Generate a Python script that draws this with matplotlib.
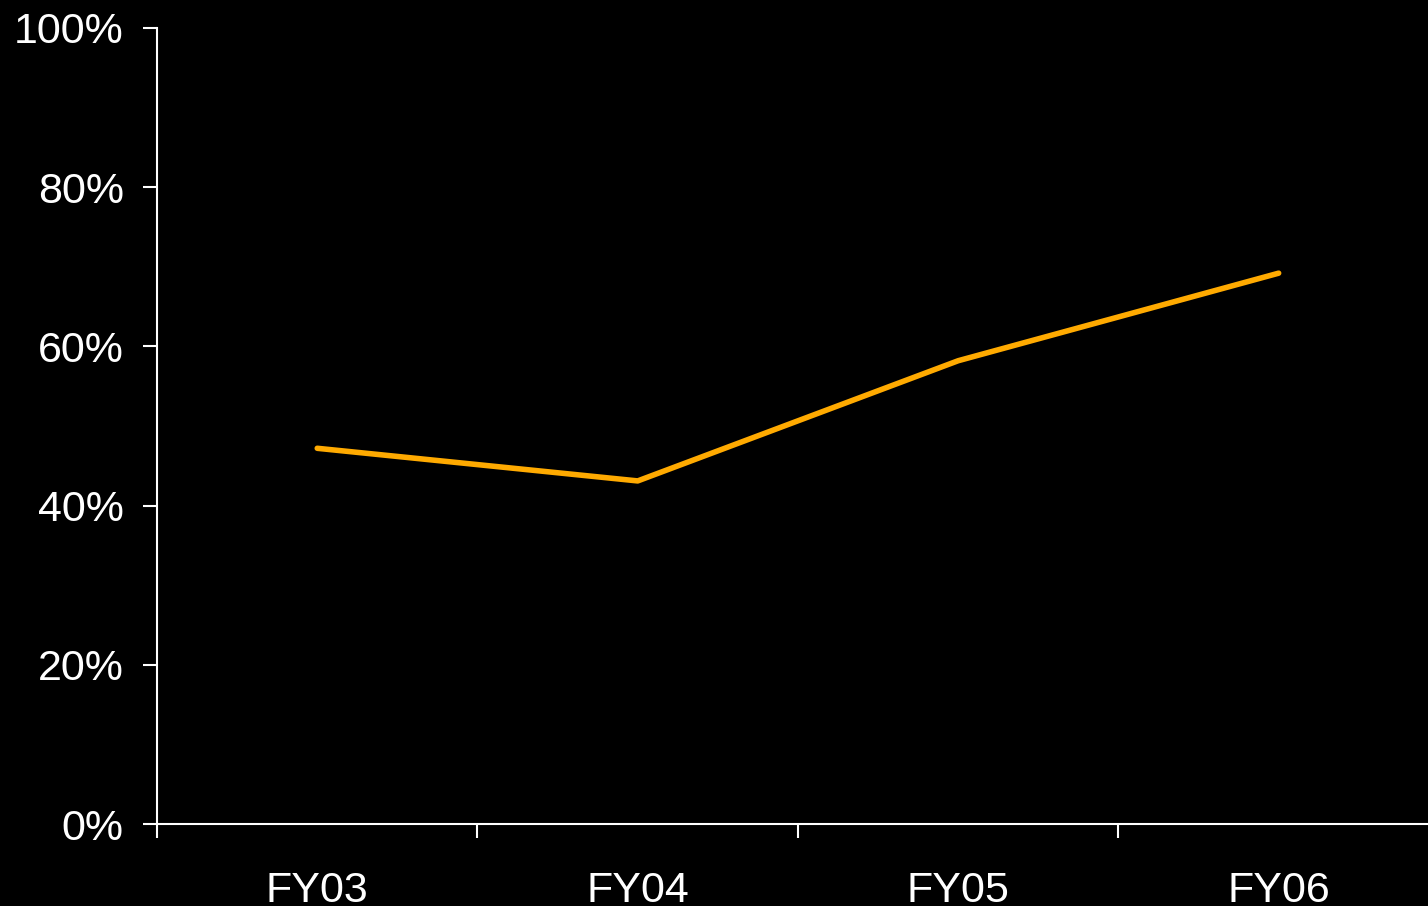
import numpy as np
from matplotlib import pyplot as plt

# data
years = ['FY03', 'FY04', 'FY05', 'FY06']
share = [47.2, 43.1, 58.2, 69.2]
yticks = [0, 20, 40, 60, 80, 100]

plt.rcParams['font.family'] = ['Liberation Sans', 'DejaVu Sans']

fig = plt.figure(figsize=(14.28, 9.06), dpi=100, facecolor='black')
ax = fig.add_axes([157 / 1428, 1 - 824 / 906, 1 - 157 / 1428, (824 - 28) / 906])
ax.set_facecolor('black')

x = np.arange(len(years))
ax.plot(x, share, color='#FFAA00', lw=4.0, solid_capstyle='round')

ax.set_yticks(yticks)
ax.set_yticklabels([f'{v}%' for v in yticks])
ax.set_xticks(np.arange(len(years) + 1) - 0.5)
ax.set_xticklabels([])
ax.set_xticks(x, minor=True)
ax.set_xticklabels(years, minor=True)
# limits after the ticks, set_xticks widens the view
ax.set_xlim(-0.5, 3.466)
ax.set_ylim(0, 100)

for s in ['top', 'right']:
    ax.spines[s].set_visible(False)
for s in ['left', 'bottom']:
    ax.spines[s].set_color('white')
    ax.spines[s].set_linewidth(1.5)

ax.tick_params(axis='y', colors='white', length=10, width=1.5, labelsize=31, pad=14)
ax.tick_params(axis='x', which='major', colors='white', length=10, width=1.5)
ax.tick_params(axis='x', which='minor', colors='white', length=0, labelsize=31, pad=34)

fig.savefig('out.png', dpi=100, facecolor='black')
